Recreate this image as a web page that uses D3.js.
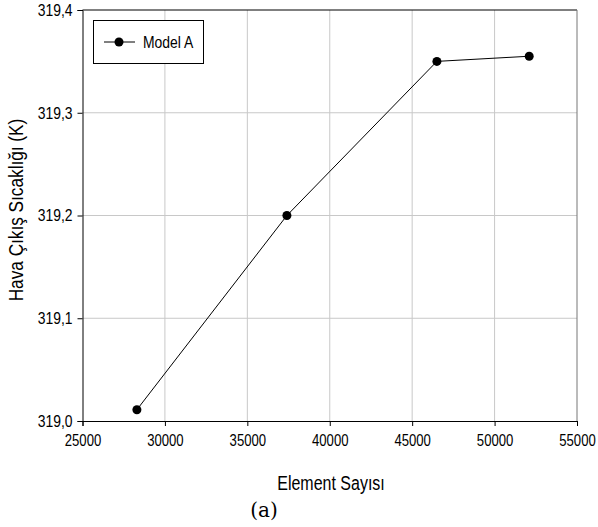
<!DOCTYPE html>
<html><head><meta charset="utf-8">
<script src="https://cdn.jsdelivr.net/npm/d3@7"></script>
<style>body{margin:0;background:#fff}svg{display:block}</style>
</head><body><svg id="c" width="598" height="527"></svg>
<script>
const xValues=[28300,37400,46500,52100];
const yValues=[319.011,319.2,319.35,319.355];
const xTicks=[25000,30000,35000,40000,45000,50000,55000];
const yTicks=[319.0,319.1,319.2,319.3,319.4];
const seriesName="Model A";

const FONT="'Liberation Sans',Arial,sans-serif";
const SX=0.82;
const svg=d3.select("#c").style("font-family",FONT);
const L=82.5,R=577,T=10,B=421;
const x=d3.scaleLinear().domain([25000,55000]).range([L,R]);
const y=d3.scaleLinear().domain([319.0,319.4]).range([B,T]);
const fmtY=d=>d.toFixed(1).replace(".",",");

function narrow(sel){
  sel.each(function(){
    const t=d3.select(this);
    const tx=+t.attr("x")||0, ty=+t.attr("y")||0;
    t.attr("x",0).attr("y",0).attr("transform",`translate(${tx},${ty}) scale(${SX},1)`);
  });
}

// grid
svg.append("g").selectAll("line").data(xTicks.slice(1,-1)).join("line")
 .attr("x1",d=>x(d)).attr("x2",d=>x(d)).attr("y1",T).attr("y2",B)
 .attr("stroke","#c8c8c8").attr("stroke-width",1);
svg.append("g").selectAll("line").data(yTicks.slice(1,-1)).join("line")
 .attr("x1",L).attr("x2",R).attr("y1",d=>y(d)).attr("y2",d=>y(d))
 .attr("stroke","#c8c8c8").attr("stroke-width",1);
svg.append("line").attr("x1",L).attr("x2",R).attr("y1",T).attr("y2",T).attr("stroke","#000");
svg.append("line").attr("x1",R).attr("x2",R).attr("y1",T).attr("y2",B).attr("stroke","#777");

// axes
const xa=svg.append("g").attr("transform",`translate(0,${B})`)
 .call(d3.axisBottom(x).tickValues(xTicks).tickSize(5).tickPadding(4).tickFormat(d3.format("d")));
const ya=svg.append("g").attr("transform",`translate(${L},0)`)
 .call(d3.axisLeft(y).tickValues(yTicks).tickSize(5).tickPadding(5).tickFormat(fmtY));
[xa,ya].forEach(g=>{g.attr("font-family",FONT).attr("font-size",16);
 g.selectAll("text").attr("fill","#000");
 g.select(".domain").attr("stroke","#000");g.selectAll(".tick line").attr("stroke","#000");});
ya.attr("font-size",17);
xa.selectAll("text").attr("dy","1.0em");
narrow(xa.selectAll(".tick text"));
narrow(ya.selectAll(".tick text"));

// line and points
const pts=xValues.map((v,i)=>[v,yValues[i]]);
svg.append("path").datum(pts).attr("fill","none").attr("stroke","#000").attr("stroke-width",1)
 .attr("d",d3.line().x(d=>x(d[0])).y(d=>y(d[1])));
svg.append("g").selectAll("circle").data(pts).join("circle")
 .attr("cx",d=>x(d[0])).attr("cy",d=>y(d[1])).attr("r",4.5).attr("fill","#000");

// legend
svg.append("rect").attr("x",93.5).attr("y",20.5).attr("width",110).attr("height",43)
 .attr("fill","#fff").attr("stroke","#000");
svg.append("line").attr("x1",104).attr("x2",135).attr("y1",42).attr("y2",42).attr("stroke","#000");
svg.append("circle").attr("cx",119).attr("cy",42).attr("r",4.5).attr("fill","#000");
narrow(svg.append("text").attr("x",143).attr("y",48).attr("font-size",17).text(seriesName));

// titles
narrow(svg.append("text").attr("x",331).attr("y",490).attr("text-anchor","middle").attr("font-size",19.5).text("Element Sayısı"));
svg.append("text").attr("transform",`translate(23,210) rotate(-90) scale(${SX},1)`).attr("text-anchor","middle").attr("font-size",21).text("Hava Çıkış Sıcaklığı (K)");
svg.append("text").attr("x",264).attr("y",517).attr("text-anchor","middle").attr("font-size",20)
 .style("font-family","'DejaVu Serif','Liberation Serif',serif").text("(a)");
</script></body></html>
